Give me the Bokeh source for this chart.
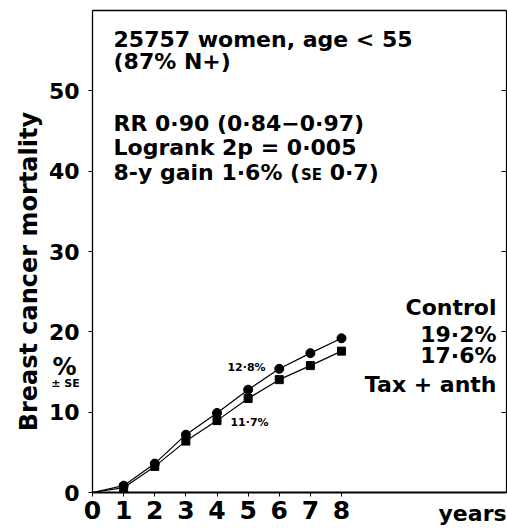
from math import pi
from bokeh.plotting import figure
from bokeh.models import Label, LinearAxis, FixedTicker, Range1d
from bokeh.embed import file_html
from bokeh.resources import INLINE

# ---- data ----
years = [0, 1, 2, 3, 4, 5, 6, 7, 8]
control = [0, 0.85, 3.6, 7.2, 9.9, 12.8, 15.4, 17.35, 19.2]
tax_anth = [0, 0.6, 3.25, 6.4, 8.95, 11.7, 14.05, 15.8, 17.6]
x_ticks = [0, 1, 2, 3, 4, 5, 6, 7, 8]
y_ticks = [0, 10, 20, 30, 40, 50]

FONT = "DejaVu Sans"
X_BOX = 13.3   # right edge of the drawn box (data units)
Y_BOX = 60.0   # top edge of the drawn box

p = figure(width=507, height=528, output_backend="svg", toolbar_location=None,
           x_range=Range1d(-2.956, 13.333), y_range=Range1d(-4.48, 61.25),
           min_border=0)
p.background_fill_color = "white"
p.border_fill_color = "white"
p.outline_line_color = None
p.xgrid.visible = False
p.ygrid.visible = False

xa = p.xaxis[0]
ya = p.yaxis[0]
for ax in (xa, ya):
    ax.axis_line_color = "black"
    ax.major_tick_line_color = "black"
    ax.minor_tick_line_color = None
    ax.major_tick_in = 0
    ax.major_tick_out = 4
    ax.major_label_text_font = FONT
    ax.major_label_text_font_style = "bold"
    ax.major_label_text_color = "black"

xa.ticker = FixedTicker(ticks=x_ticks)
xa.fixed_location = 0
xa.bounds = (0, X_BOX)
xa.axis_line_width = 1.8
xa.major_label_text_font_size = "25px"
xa.major_label_standoff = 4

ya.ticker = FixedTicker(ticks=y_ticks)
ya.fixed_location = 0
ya.bounds = (0, Y_BOX)
ya.axis_line_width = 1.3
ya.major_label_text_font_size = "22px"
ya.major_label_standoff = 9

right = LinearAxis(ticker=FixedTicker(ticks=y_ticks), fixed_location=X_BOX, bounds=(0, Y_BOX),
                   major_tick_in=5, major_tick_out=0, axis_line_color="black", axis_line_width=1.2,
                   major_label_standoff=0, major_label_overrides={t: "" for t in y_ticks},
                   minor_tick_line_color=None, major_tick_line_color="black")
p.add_layout(right, "right")

top = LinearAxis(ticker=FixedTicker(ticks=[]), fixed_location=Y_BOX, bounds=(0, X_BOX),
                 major_tick_in=0, major_tick_out=0, axis_line_color="black", axis_line_width=1.3,
                 minor_tick_line_color=None)
p.add_layout(top, "above")

# ---- series ----
p.line(years, control, line_color="black", line_width=1.2)
p.line(years, tax_anth, line_color="black", line_width=1.2)
p.scatter(years[1:], control[1:], marker="circle", size=9, color="black")
p.scatter(years[1:], tax_anth[1:], marker="square", size=8, color="black")

def lab(text, x, y, size="22px", align="left", baseline="alphabetic", angle=0.0):
    p.add_layout(Label(x=x, y=y, text=text, text_font=FONT, text_font_style="bold",
                       text_font_size=size, text_align=align, text_baseline=baseline,
                       text_color="black", angle=angle))

lab("25757 women, age < 55", 0.675, 56.41)
lab("(87% N+)", 0.675, 53.67)
lab("RR 0·90 (0·84−0·97)", 0.675, 45.95)
lab("Logrank 2p = 0·005", 0.675, 42.96)
lab("8-y gain 1·6% (", 0.675, 39.85)
lab("SE", 6.70, 39.53, size="15px")
lab("0·7)", 7.62, 39.85)

lab("Control", 12.98, 23.04, align="right")
lab("19·2%", 12.98, 19.68, align="right")
lab("17·6%", 12.98, 17.07, align="right")
lab("Tax + anth", 12.98, 13.46, align="right")

lab("12·8%", 5.56, 15.61, size="11px", align="right")
lab("11·7%", 4.43, 8.76, size="11px")

lab("Breast cancer mortality", -2.053, 27.5, size="24px", align="center", angle=pi / 2)
lab("%", -0.90, 15.67, size="24px", align="center")
lab("± SE", -0.87, 13.61, size="11px", align="center")
lab("years", 12.21, -2.59, size="22px", align="center")

open("out.html", "w").write(file_html(p, INLINE))
